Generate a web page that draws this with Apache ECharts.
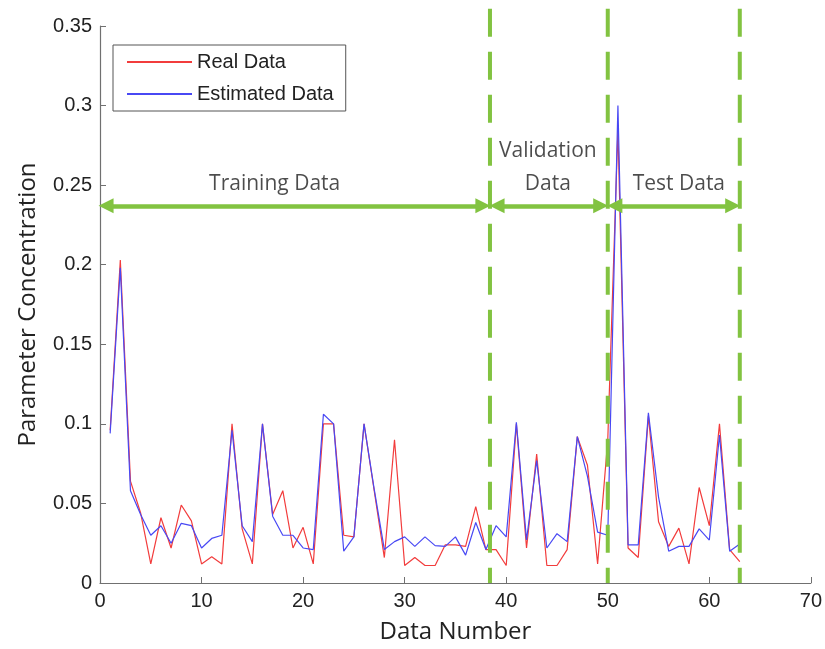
<!DOCTYPE html>
<html>
<head>
<meta charset="utf-8">
<script src="https://cdn.jsdelivr.net/npm/echarts@6/dist/echarts.min.js"></script>
<style>
html, body { margin: 0; padding: 0; background: #fff; }
#chart { width: 825px; height: 649px; }
</style>
</head>
<body>
<div id="chart"></div>
<script>
// sample index
const dataNumber = [
    1, 2, 3, 4, 5, 6, 7, 8, 9, 10, 11, 12, 13, 14, 15, 16, 17, 18, 19, 20,
    21, 22, 23, 24, 25, 26, 27, 28, 29, 30, 31, 32, 33, 34, 35, 36, 37, 38, 39, 40,
    41, 42, 43, 44, 45, 46, 47, 48, 49, 50, 51, 52, 53, 54, 55, 56, 57, 58, 59, 60,
    61, 62, 63
]
const realData = [
    0.096, 0.203, 0.064, 0.044, 0.012, 0.041, 0.022, 0.049, 0.039, 0.012,
    0.0165, 0.012, 0.100, 0.034, 0.012, 0.100, 0.043, 0.058, 0.022, 0.035,
    0.012, 0.100, 0.100, 0.030, 0.029, 0.100, 0.058, 0.016, 0.090, 0.011,
    0.016, 0.011, 0.011, 0.024, 0.024, 0.023, 0.048, 0.021, 0.021, 0.011,
    0.100, 0.022, 0.081, 0.011, 0.011, 0.021, 0.092, 0.074, 0.012, 0.090,
    0.285, 0.022, 0.016, 0.105, 0.0385, 0.023, 0.0345, 0.012, 0.060, 0.036,
    0.100, 0.021, 0.0134
]
const estimatedData = [
    0.094, 0.198, 0.058, 0.043, 0.030, 0.036, 0.025, 0.0375, 0.036, 0.022,
    0.028, 0.030, 0.096, 0.036, 0.026, 0.100, 0.042, 0.030, 0.030, 0.022,
    0.021, 0.106, 0.100, 0.020, 0.029, 0.100, 0.059, 0.021, 0.026, 0.029,
    0.023, 0.029, 0.0235, 0.023, 0.029, 0.0175, 0.038, 0.021, 0.036, 0.029,
    0.101, 0.027, 0.077, 0.022, 0.031, 0.026, 0.092, 0.067, 0.032, 0.030,
    0.300, 0.024, 0.024, 0.107, 0.054, 0.020, 0.023, 0.023, 0.034, 0.027,
    0.093, 0.020, 0.0245
]
// where the data set is split (data number)
const splitAt = [0, 38.4, 50, 63]
const segmentNames = ['Training Data', 'Validation\nData', 'Test Data']
const segmentTextX = [17.2, 44.1, 57.0]

const green = '#82c341'
const arrowY = 0.237
const textFont = '"Open Sans", sans-serif'
const numFont = '"Liberation Sans", Arial, sans-serif'

const chart = echarts.init(document.getElementById('chart'))

let series = [
    {
        name: 'Real Data',
        type: 'line',
        data: dataNumber.map((x, i) => [x, realData[i]]),
        symbol: 'none',
        lineStyle: { color: '#f23c3c', width: 1.2 },
        itemStyle: { color: '#f23c3c' },
        z: 3
    },
    {
        name: 'Estimated Data',
        type: 'line',
        data: dataNumber.map((x, i) => [x, estimatedData[i]]),
        symbol: 'none',
        lineStyle: { color: '#4848f4', width: 1.2 },
        itemStyle: { color: '#4848f4' },
        z: 4
    }
]

// dashed separators
splitAt.slice(1).forEach((s) => {
    series.push({
        type: 'line',
        data: [[s, 0.3608], [s, 0]],
        symbol: 'none',
        clip: false,
        silent: true,
        lineStyle: { color: green, width: 4, type: [28, 15] },
        z: 5
    })
})

// double arrows
series.push({
    type: 'line',
    data: [],
    silent: true,
    markLine: {
        silent: true,
        symbol: ['triangle', 'triangle'],
        symbolSize: 15,
        label: { show: false },
        lineStyle: { color: green, width: 4.5, type: 'solid' },
        data: segmentNames.map((n, i) => [
            { coord: [splitAt[i] + (i == 0 ? 0.6 : 0.7), arrowY] },
            { coord: [splitAt[i + 1] - 0.7, arrowY] }
        ])
    },
    z: 6
})

// segment names
series.push({
    type: 'scatter',
    symbolSize: 0,
    silent: true,
    data: segmentNames.map((n, i) => ({ name: n, value: [segmentTextX[i], arrowY] })),
    label: {
        show: true,
        position: 'top',
        distance: 5,
        formatter: (p) => p.name,
        fontFamily: textFont,
        fontSize: 21,
        lineHeight: 33,
        color: '#1f1f1f'
    },
    z: 7
})

chart.setOption({
    animation: false,
    backgroundColor: '#fff',
    grid: {
        left: 100,
        right: 13,
        top: 26,
        bottom: 66
    },
    legend: {
        data: ['Real Data', 'Estimated Data'],
        orient: 'vertical',
        left: 113,
        top: 45,
        padding: [7, 12, 7, 14],
        itemGap: 12,
        itemWidth: 65,
        itemHeight: 2,
        icon: 'rect',
        backgroundColor: '#fff',
        borderColor: '#555',
        borderWidth: 1,
        textStyle: {
            fontFamily: numFont,
            fontSize: 20,
            color: '#222'
        }
    },
    xAxis: {
        type: 'value',
        min: 0,
        max: 70,
        interval: 10,
        name: 'Data Number',
        nameLocation: 'middle',
        nameGap: 37,
        nameTextStyle: {
            fontFamily: textFont,
            fontSize: 24,
            color: '#222'
        },
        axisLine: { show: true, lineStyle: { color: '#707070', width: 1.2 } },
        axisTick: { show: true, inside: true, length: 6, lineStyle: { color: '#707070' } },
        splitLine: { show: false },
        axisLabel: {
            fontFamily: numFont,
            fontSize: 20,
            color: '#222',
            margin: 8
        }
    },
    yAxis: {
        type: 'value',
        min: 0,
        max: 0.35,
        interval: 0.05,
        name: 'Parameter Concentration',
        nameLocation: 'middle',
        nameGap: 60,
        nameTextStyle: {
            fontFamily: textFont,
            fontSize: 24,
            color: '#222'
        },
        axisLine: { show: true, lineStyle: { color: '#707070', width: 1.2 } },
        axisTick: { show: true, inside: true, length: 6, lineStyle: { color: '#707070' } },
        splitLine: { show: false },
        axisLabel: {
            fontFamily: numFont,
            fontSize: 20,
            color: '#222',
            margin: 8
        }
    },
    series: series
})
</script>
</body>
</html>
